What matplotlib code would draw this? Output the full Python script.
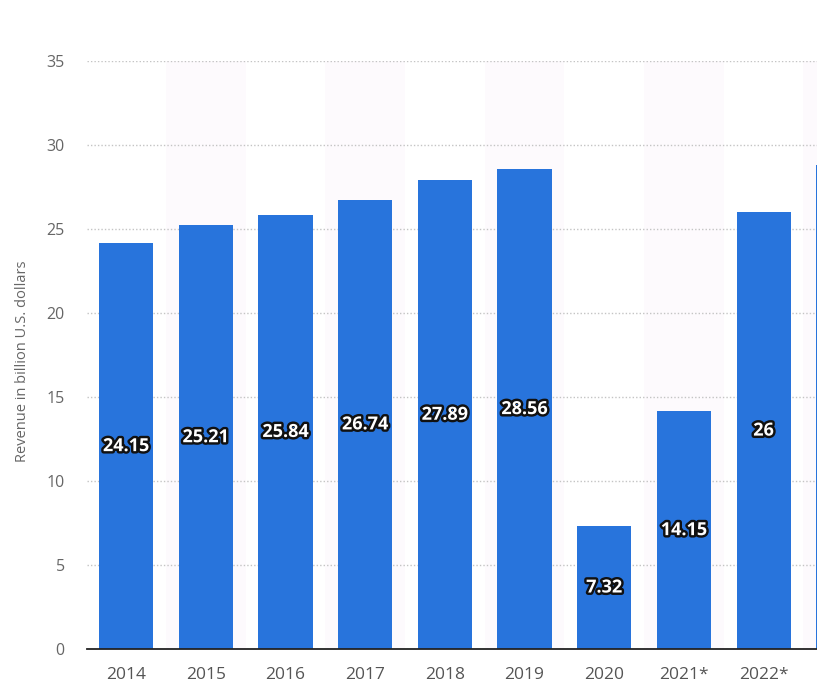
import matplotlib
matplotlib.use("Agg")
import matplotlib.pyplot as plt
import matplotlib.patheffects as pe

years = ["2014", "2015", "2016", "2017", "2018", "2019", "2020", "2021*", "2022*"]
revenue = [24.15, 25.21, 25.84, 26.74, 27.89, 28.56, 7.32, 14.15, 26]
labels = ["24.15", "25.21", "25.84", "26.74", "27.89", "28.56", "7.32", "14.15", "26"]
# partially visible next bar at the right edge (cut off in the reference)
next_revenue = 28.8
yticks = [0, 5, 10, 15, 20, 25, 30, 35]

plt.rcParams['font.family'] = ['Open Sans', 'DejaVu Sans']

fig = plt.figure(figsize=(8.17, 6.89), dpi=100)
ax = fig.add_axes([87/817, 40/689, 1 - 87/817, (649-61)/689])

x = list(range(len(years)))
for i in range(len(years) + 1):
    if i % 2 == 1:
        ax.axvspan(i - 0.5, i + 0.5, ymin=0, ymax=1, color='#fdfafd', zorder=0, lw=0)

ax.bar(x, revenue, width=0.68, color='#2874dc', zorder=3)
ax.bar([len(years)], [next_revenue], width=0.68, color='#2874dc', zorder=3)

for i, (v, t) in enumerate(zip(revenue, labels)):
    ax.text(i, v / 2, t, ha='center', va='center', color='white', fontsize=13,
            fontweight='bold', zorder=4,
            path_effects=[pe.withStroke(linewidth=3.5, foreground='#111111')])

ax.set_yticks(yticks)
ax.set_yticklabels([str(v) for v in yticks])
ax.set_xticks(x)
ax.set_xticklabels(years)
ax.set_xlim(-0.49, 8.67)
ax.set_ylim(0, 35)

ax.grid(axis='y', linestyle=(0, (1, 1.5)), color='#c4c4c4', linewidth=1, zorder=1)
ax.set_axisbelow(True)
for s in ['top', 'right', 'left']:
    ax.spines[s].set_visible(False)
ax.spines['bottom'].set_color('#222222')
ax.spines['bottom'].set_linewidth(1.3)
ax.spines['bottom'].set_zorder(5)

ax.tick_params(axis='y', length=0, pad=16, labelsize=11.5, labelcolor='#666666')
ax.tick_params(axis='x', length=0, pad=13, labelsize=12.5, labelcolor='#555555')

ax.set_ylabel("Revenue in billion U.S. dollars", fontsize=10.5, color='#666666', va='center')
ax.yaxis.set_label_coords(-0.089, 0.49)

fig.savefig("out.png", dpi=100)
